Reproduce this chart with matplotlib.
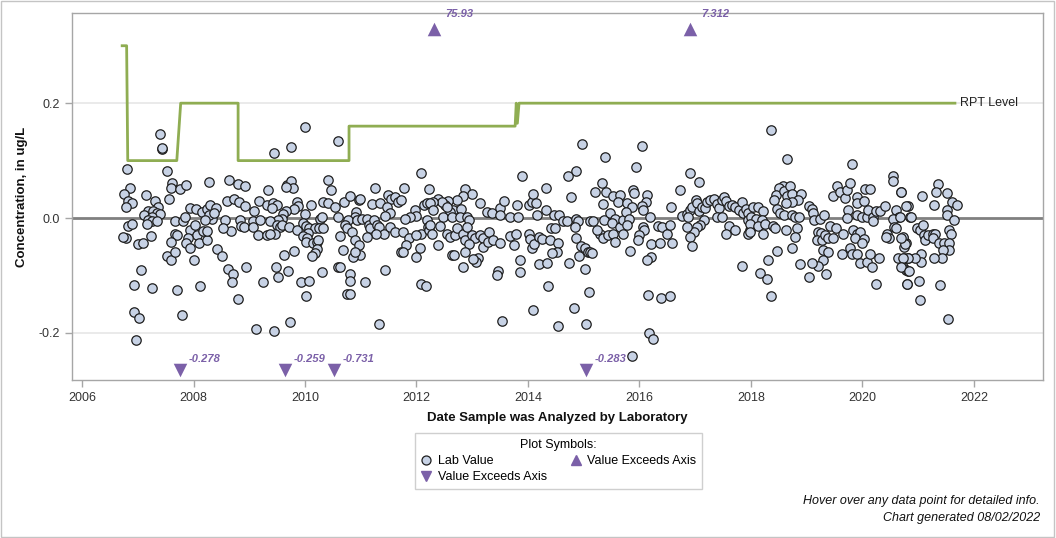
import matplotlib
matplotlib.use("Agg")
import matplotlib.pyplot as plt
from matplotlib.lines import Line2D
from matplotlib.patches import Rectangle

plt.rcParams['font.family'] = ['Liberation Sans', 'DejaVu Sans']

# ---------------- data (decimal year, concentration ug/L) ----------------
seg_2006_2009 = [
    (2007.40, 0.146), (2007.43, 0.120), (2007.44, 0.122), (2006.81, 0.086), (2007.53, 0.082),
    (2007.62, 0.061), (2007.60, 0.052), (2007.76, 0.050), (2007.87, 0.057), (2008.28, 0.062),
    (2008.64, 0.067), (2008.80, 0.059), (2008.92, 0.056), (2009.34, 0.049), (2006.86, 0.053),
    (2006.76, 0.042), (2006.83, 0.030), (2006.90, 0.027), (2006.78, 0.019), (2007.15, 0.040),
    (2007.31, 0.030), (2007.56, 0.034), (2007.37, 0.019), (2007.18, 0.013), (2007.12, 0.005),
    (2007.28, 0.013), (2007.34, 0.009), (2007.39, 0.007), (2007.25, 0.002), (2007.19, -0.003),
    (2007.25, -0.006), (2007.35, -0.006), (2007.16, -0.010), (2007.66, -0.005), (2007.82, -0.005),
    (2007.85, 0.002), (2007.94, 0.017), (2008.05, 0.015), (2008.15, 0.011), (2008.24, 0.015),
    (2008.30, 0.023), (2008.40, 0.017), (2008.33, -0.001), (2008.27, 0.005), (2008.21, -0.003),
    (2008.37, 0.008), (2006.83, -0.014), (2006.90, -0.011), (2006.79, -0.034), (2007.01, -0.045),
    (2007.10, -0.044), (2007.23, -0.031), (2007.66, -0.027), (2007.70, -0.030), (2007.93, -0.021),
    (2008.03, -0.012), (2008.07, -0.030), (2007.91, -0.035), (2007.87, -0.044), (2007.94, -0.053),
    (2008.09, -0.044), (2008.25, -0.038), (2008.17, -0.022), (2008.25, -0.022), (2007.59, -0.041),
    (2007.52, -0.066), (2007.60, -0.073), (2007.66, -0.060), (2008.00, -0.073), (2008.43, -0.054),
    (2008.51, -0.066), (2008.57, -0.003), (2008.67, -0.022), (2008.53, -0.018), (2008.83, -0.003),
    (2008.86, -0.014), (2008.91, -0.016), (2009.06, -0.005), (2009.07, -0.016), (2009.19, -0.003),
    (2009.16, -0.030), (2009.32, -0.030), (2008.60, 0.030), (2008.73, 0.033), (2008.82, 0.028),
    (2008.92, 0.021), (2009.08, 0.013), (2009.18, 0.030), (2009.31, 0.023), (2007.06, -0.090),
    (2006.93, -0.117), (2007.26, -0.122), (2007.71, -0.125), (2008.12, -0.118), (2008.61, -0.089),
    (2008.71, -0.097), (2008.69, -0.112), (2008.94, -0.086), (2009.24, -0.111), (2008.79, -0.141),
    (2006.93, -0.164), (2007.03, -0.174), (2007.80, -0.169), (2009.12, -0.193), (2006.97, -0.212),
    (2006.74, -0.033),
]

seg_2009_2012 = [
    (2010.00, 0.159), (2009.74, 0.123), (2009.44, 0.114), (2010.60, 0.134), (2012.08, 0.079),
    (2009.68, 0.057), (2009.74, 0.065), (2009.78, 0.053), (2009.66, 0.054),
    (2010.42, 0.066), (2010.47, 0.049), (2011.25, 0.052), (2011.77, 0.053), (2012.23, 0.050),
    (2009.43, 0.027), (2009.50, 0.023), (2009.40, 0.017),
    (2009.85, 0.028), (2009.88, 0.021), (2009.80, 0.015), (2009.66, 0.013), (2009.61, 0.007),
    (2009.58, -0.001), (2009.52, -0.003), (2010.11, 0.023), (2010.00, 0.007),
    (2010.33, 0.028), (2010.42, 0.027), (2010.54, 0.020), (2010.70, 0.028), (2010.81, 0.038),
    (2010.96, 0.031), (2010.99, 0.033), (2010.92, 0.011), (2010.90, 0.002), (2010.78, -0.003),
    (2010.60, 0.001), (2010.27, -0.001), (2010.30, 0.001),
    (2011.20, 0.024), (2011.35, 0.026), (2011.49, 0.040), (2011.55, 0.034), (2011.61, 0.037),
    (2011.67, 0.028), (2011.73, 0.031), (2011.47, 0.020), (2011.53, 0.009), (2011.44, 0.003),
    (2011.97, 0.014), (2012.00, 0.003), (2011.88, 0.002), (2011.79, -0.001), (2012.14, 0.023),
    (2012.18, 0.027), (2012.23, -0.012), (2012.18, -0.003),
    (2009.37, -0.006), (2009.49, -0.012), (2009.55, -0.015), (2009.58, -0.012), (2009.46, -0.027),
    (2009.37, -0.028), (2009.72, -0.016), (2009.86, -0.020), (2009.97, -0.009), (2010.02, -0.014),
    (2010.08, -0.018), (2010.18, -0.018), (2010.26, -0.018), (2010.33, -0.018), (2010.06, -0.026),
    (2009.97, -0.031), (2010.03, -0.035), (2010.02, -0.041), (2010.15, -0.044), (2010.21, -0.041),
    (2010.24, -0.039), (2010.21, -0.054), (2010.18, -0.061), (2010.12, -0.066),
    (2010.63, -0.031), (2010.68, -0.056), (2010.60, -0.085), (2010.63, -0.086),
    (2010.72, -0.012), (2010.76, -0.018), (2010.84, -0.024), (2010.90, -0.038), (2010.96, -0.047),
    (2010.99, -0.064), (2010.86, -0.067), (2010.90, -0.059),
    (2010.93, -0.003), (2011.02, -0.001), (2011.11, -0.002), (2011.14, -0.012), (2011.17, -0.018),
    (2011.23, -0.003), (2011.29, -0.012), (2011.32, -0.015), (2011.41, -0.028), (2011.28, -0.027),
    (2011.11, -0.033), (2011.53, -0.015), (2011.61, -0.024), (2011.76, -0.024), (2011.87, -0.034),
    (2011.82, -0.047), (2011.72, -0.059), (2011.76, -0.060), (2011.99, -0.067), (2012.06, -0.053),
    (2012.09, -0.028), (2012.00, -0.030), (2012.20, -0.015), (2012.22, -0.020),
    (2009.63, -0.064), (2009.80, -0.057), (2009.48, -0.085), (2009.52, -0.102), (2009.70, -0.092),
    (2010.31, -0.094), (2009.92, -0.112), (2010.08, -0.110), (2010.02, -0.135), (2010.80, -0.097),
    (2010.81, -0.110), (2011.08, -0.111), (2010.75, -0.132), (2010.81, -0.132), (2011.44, -0.090),
    (2012.09, -0.114), (2012.17, -0.118), (2009.73, -0.181), (2009.44, -0.197), (2011.33, -0.184),
]

seg_2012_2015 = [
    (2014.97, 0.129), (2014.86, 0.082), (2014.71, 0.073), (2013.90, 0.073), (2014.32, 0.052),
    (2014.78, 0.036), (2012.87, 0.050), (2012.99, 0.042), (2012.84, 0.038), (2012.72, 0.031),
    (2012.57, 0.030), (2012.51, 0.023), (2012.39, 0.034), (2012.45, 0.028), (2012.30, 0.028),
    (2012.24, 0.026), (2012.30, 0.014),
    (2012.66, 0.014), (2012.79, 0.015), (2012.60, 0.011), (2012.54, 0.019), (2012.48, 0.002),
    (2012.63, 0.002), (2012.78, 0.002), (2012.90, 0.002), (2012.95, -0.003), (2013.14, 0.026),
    (2013.26, 0.011), (2013.35, 0.008), (2013.50, 0.017), (2013.57, 0.030), (2013.50, 0.005),
    (2013.68, 0.002), (2013.81, 0.023), (2013.83, 0.002), (2014.02, 0.023), (2014.07, 0.028),
    (2014.09, 0.042), (2014.14, 0.026), (2014.17, 0.005), (2014.32, 0.014), (2014.47, 0.005),
    (2014.56, 0.005), (2014.62, -0.006), (2014.70, -0.006), (2014.87, -0.001), (2014.90, -0.006),
    (2012.24, -0.012), (2012.27, -0.027), (2012.42, -0.014), (2012.39, -0.047), (2012.54, -0.027),
    (2012.60, -0.033), (2012.69, -0.030), (2012.72, -0.018), (2012.84, -0.027), (2012.87, -0.038),
    (2012.90, -0.016), (2012.99, -0.030), (2013.05, -0.035), (2012.95, -0.045), (2013.14, -0.030),
    (2013.20, -0.035), (2013.19, -0.050), (2013.31, -0.024), (2013.29, -0.041), (2013.38, -0.038),
    (2013.49, -0.044), (2013.11, -0.070), (2013.07, -0.076), (2013.02, -0.072), (2012.84, -0.085),
    (2012.63, -0.064), (2012.67, -0.064), (2012.87, -0.060),
    (2013.47, -0.093), (2013.45, -0.099), (2013.67, -0.031), (2013.79, -0.028), (2013.75, -0.047),
    (2013.86, -0.073), (2013.85, -0.094),
    (2014.01, -0.027), (2014.04, -0.037), (2014.07, -0.053), (2014.11, -0.045), (2014.19, -0.033),
    (2014.25, -0.037), (2014.40, -0.038), (2014.41, -0.018), (2014.49, -0.018), (2014.53, -0.044),
    (2014.52, -0.059), (2014.43, -0.061), (2014.20, -0.080), (2014.34, -0.078), (2014.74, -0.079),
    (2014.92, -0.066), (2014.87, -0.034), (2014.84, -0.016), (2014.96, -0.048), (2015.02, -0.052),
    (2015.08, -0.060), (2015.02, -0.088), (2015.10, -0.128), (2015.04, -0.184),
    (2014.36, -0.119), (2014.09, -0.160), (2014.83, -0.157), (2013.54, -0.179), (2014.53, -0.188),
]

seg_2015_2018 = [
    (2016.05, 0.125), (2015.38, 0.106), (2015.94, 0.088), (2016.91, 0.079), (2017.06, 0.062),
    (2016.73, 0.049),
    (2015.33, 0.061), (2015.20, 0.046), (2015.40, 0.046), (2015.52, 0.038), (2015.65, 0.040),
    (2015.62, 0.028), (2015.35, 0.024), (2015.77, 0.026), (2015.89, 0.049), (2015.90, 0.044),
    (2015.86, 0.020), (2016.14, 0.040), (2016.12, 0.028), (2016.04, 0.021), (2016.06, 0.014),
    (2016.56, 0.019),
    (2015.11, -0.005), (2015.17, -0.006), (2015.36, -0.003), (2015.48, 0.008), (2015.56, -0.001),
    (2015.50, -0.009), (2015.65, -0.015), (2015.71, -0.003), (2015.76, 0.011), (2015.82, -0.001),
    (2015.78, -0.012), (2015.29, -0.027), (2015.35, -0.035), (2015.44, -0.030), (2015.53, -0.027),
    (2015.56, -0.041), (2015.71, -0.027), (2015.23, -0.021), (2015.11, -0.059), (2015.14, -0.061),
    (2016.19, 0.001), (2016.07, -0.015), (2016.08, -0.021), (2016.00, -0.030), (2015.98, -0.039),
    (2015.83, -0.057), (2016.20, -0.045), (2016.37, -0.044), (2016.34, -0.014), (2016.40, -0.016),
    (2016.49, -0.027), (2016.55, -0.012), (2016.58, -0.044), (2016.20, -0.067), (2016.14, -0.073),
    (2016.16, -0.134), (2016.39, -0.140), (2016.54, -0.136), (2016.18, -0.200), (2016.25, -0.210),
    (2015.87, -0.241),
    (2016.76, 0.003), (2016.85, 0.007), (2016.90, 0.014), (2016.88, 0.002), (2016.94, 0.019),
    (2017.02, 0.031), (2017.03, 0.026), (2017.06, 0.013), (2017.12, 0.019), (2017.18, 0.017),
    (2017.21, 0.028), (2017.27, 0.031), (2017.34, 0.034), (2017.39, 0.025), (2017.42, 0.017),
    (2017.48, 0.032), (2017.51, 0.036), (2017.55, 0.030), (2017.60, 0.021), (2017.66, 0.023),
    (2017.72, 0.019), (2017.78, 0.014), (2017.84, 0.028), (2017.86, 0.008), (2017.92, 0.015),
    (2017.95, 0.009), (2017.39, 0.002), (2017.48, 0.001), (2017.15, -0.003), (2017.09, -0.012),
    (2017.03, -0.015), (2016.98, -0.024), (2016.91, -0.033), (2016.95, -0.049), (2016.85, -0.016),
    (2017.60, -0.014), (2017.55, -0.028), (2017.72, -0.021), (2017.94, -0.003), (2017.98, -0.021),
    (2017.95, -0.028), (2017.84, -0.083),
]

seg_2018_2021 = [
    (2018.36, 0.153), (2018.65, 0.102), (2019.82, 0.094), (2020.54, 0.073), (2020.55, 0.064),
    (2020.69, 0.046),
    (2018.04, 0.019), (2018.13, 0.019), (2018.22, 0.013), (2018.01, 0.002), (2018.10, -0.001),
    (2018.19, -0.003), (2017.98, -0.010), (2018.13, -0.014), (2018.25, -0.010), (2018.40, -0.014),
    (2018.43, -0.018), (2017.98, -0.024), (2018.22, -0.028), (2018.63, -0.020), (2018.82, -0.018),
    (2018.79, -0.033), (2018.74, -0.053), (2018.47, -0.057), (2018.31, -0.073), (2018.16, -0.096),
    (2018.28, -0.106), (2018.36, -0.136), (2018.88, -0.080), (2018.57, 0.056), (2018.51, 0.052),
    (2018.45, 0.040), (2018.41, 0.032), (2018.59, 0.047), (2018.64, 0.038), (2018.70, 0.056),
    (2018.73, 0.042), (2018.89, 0.042), (2018.85, 0.031), (2018.73, 0.028), (2018.63, 0.026),
    (2018.46, 0.015), (2018.52, 0.009), (2018.59, 0.005), (2018.73, 0.005), (2018.79, 0.001),
    (2018.87, 0.001),
    (2019.05, 0.021), (2019.09, 0.015), (2019.12, 0.008), (2019.13, -0.003), (2019.24, -0.002),
    (2019.31, 0.005), (2019.21, -0.024), (2019.25, -0.026), (2019.18, -0.038), (2019.27, -0.038),
    (2019.33, -0.030), (2019.39, -0.035), (2019.41, -0.014), (2019.48, -0.035), (2019.53, -0.018),
    (2019.66, -0.027), (2019.29, -0.055), (2019.39, -0.059), (2019.29, -0.073), (2019.21, -0.084),
    (2019.09, -0.079), (2019.05, -0.102), (2019.35, -0.097), (2019.63, -0.062), (2019.78, -0.053),
    (2019.81, -0.062), (2019.91, -0.062), (2019.83, -0.021), (2019.90, -0.027), (2019.96, -0.024),
    (2019.87, -0.035), (2020.02, -0.037), (2019.99, -0.043), (2019.48, 0.038), (2019.55, 0.056),
    (2019.60, 0.046), (2019.69, 0.035), (2019.73, 0.048), (2019.77, 0.061), (2019.90, 0.036),
    (2019.90, 0.026), (2020.03, 0.030), (2019.75, 0.014), (2019.72, 0.000), (2019.90, 0.005),
    (2019.99, 0.002), (2020.09, 0.001), (2020.10, 0.014), (2020.04, 0.050), (2020.13, 0.050),
    (2020.19, 0.002), (2020.19, -0.006), (2020.24, 0.013), (2020.32, 0.013), (2020.41, 0.021),
    (2019.96, -0.078), (2020.09, -0.076), (2020.17, -0.085), (2020.14, -0.063), (2020.29, -0.070),
    (2020.24, -0.114),
    (2020.60, 0.014), (2020.66, 0.001), (2020.54, -0.002), (2020.57, -0.015), (2020.60, -0.018),
    (2020.45, -0.027), (2020.48, -0.035), (2020.42, -0.033), (2020.72, -0.035), (2020.78, -0.044),
    (2020.75, -0.051), (2020.63, -0.070), (2020.75, -0.070), (2020.81, -0.070), (2020.73, -0.085),
    (2020.78, -0.090), (2020.81, -0.093), (2020.80, -0.115), (2020.81, 0.021), (2020.85, 0.001),
]

seg_2021 = [
    (2021.36, 0.059), (2021.32, 0.046), (2021.52, 0.044), (2021.60, 0.028), (2021.69, 0.023),
    (2021.51, 0.014), (2021.52, 0.005), (2021.64, -0.003), (2021.28, 0.023), (2021.07, 0.038),
    (2020.78, 0.021), (2020.70, 0.046), (2020.67, 0.002), (2020.88, 0.001),
    (2020.98, -0.018), (2021.04, -0.020), (2021.08, -0.012), (2021.11, -0.030), (2021.13, -0.038),
    (2021.17, -0.030), (2021.26, -0.027), (2021.31, -0.027), (2021.26, -0.035), (2021.38, -0.044),
    (2021.47, -0.043), (2021.56, -0.021), (2021.59, -0.028), (2021.56, -0.044), (2021.55, -0.055),
    (2021.44, -0.056), (2021.43, -0.070), (2021.29, -0.070), (2021.06, -0.062), (2021.06, -0.076),
    (2020.94, -0.070), (2020.82, -0.070), (2020.73, -0.070), (2020.70, -0.085), (2020.73, -0.033),
    (2020.76, -0.045), (2020.70, -0.035), (2020.84, -0.093), (2020.80, -0.114), (2021.01, -0.109),
    (2021.39, -0.117), (2021.03, -0.143), (2021.54, -0.176),
]

# values beyond the axis range (shown as triangles with labels)
above_dates = [2012.32, 2016.91]
above_labels = ["75.93", "7.312"]
below_dates = [2007.76, 2009.64, 2010.52, 2015.04]
below_labels = ["-0.278", "-0.259", "-0.731", "-0.283"]

# reporting level (RPT) line
rpt_dates = [2006.72, 2006.80, 2006.82, 2007.70, 2007.77, 2008.80, 2008.80, 2010.79, 2010.79,
             2013.77, 2013.79, 2013.81, 2013.84, 2021.66]
rpt_values = [0.30, 0.30, 0.10, 0.10, 0.20, 0.20, 0.10, 0.10, 0.16,
              0.16, 0.20, 0.165, 0.20, 0.20]

year_ticks = [2006, 2008, 2010, 2012, 2014, 2016, 2018, 2020, 2022]
conc_ticks = [-0.2, 0.0, 0.2]

# ---------------- figure ----------------
W, H = 1056, 538
fig = plt.figure(figsize=(W / 100, H / 100), dpi=100)
fig.patches.append(Rectangle((0.0005, 0.001), 0.998, 0.997, transform=fig.transFigure,
                             fill=False, edgecolor='#c4c4c4', linewidth=1.0))

ax = fig.add_axes([72 / W, 1 - 380 / H, (1043 - 72) / W, (380 - 13) / H])
ax.set_xlim(2005.82, 2023.24)
ax.set_ylim(-0.282, 0.357)

for s in ax.spines.values():
    s.set_color('#a6a6a6')
    s.set_linewidth(1.0)

ax.set_yticks(conc_ticks)
ax.set_yticklabels(["-0.2", "0.0", "0.2"])
ax.set_xticks(year_ticks)
ax.set_xticklabels([str(y) for y in year_ticks])
ax.tick_params(axis='both', colors='#a6a6a6', labelcolor='#333333', labelsize=9, length=5, width=1)

for yv in [-0.2, 0.2]:
    ax.axhline(yv, color='#e6e6e6', linewidth=1.2, zorder=0)
ax.axhline(0.0, color='#808080', linewidth=2.0, zorder=1)

ax.plot(rpt_dates, rpt_values, color='#8fad52', linewidth=2.0, zorder=2)
ax.text(2021.75, 0.2, "RPT Level", fontsize=9, color='#222222', va='center', ha='left')

all_pts = seg_2006_2009 + seg_2009_2012 + seg_2012_2015 + seg_2015_2018 + seg_2018_2021 + seg_2021
xs = [p[0] for p in all_pts]
ys = [p[1] for p in all_pts]
ax.scatter(xs, ys, s=46, facecolor='#c7d2e5', edgecolor='#1e1e1e', linewidth=0.9, zorder=3)

purple = '#7b60a8'
ax.scatter(above_dates, [0.329] * len(above_dates), marker='^', s=95, color=purple, zorder=4,
           linewidths=0)
for d, lab in zip(above_dates, above_labels):
    ax.annotate(lab, (d, 0.329), xytext=(8, 11), textcoords='offset points', fontsize=8,
                fontweight='bold', fontstyle='italic', color=purple, ha='left', va='center')
ax.scatter(below_dates, [-0.264] * len(below_dates), marker='v', s=95, color=purple, zorder=4,
           linewidths=0)
for d, lab in zip(below_dates, below_labels):
    ax.annotate(lab, (d, -0.264), xytext=(6, 8), textcoords='offset points', fontsize=8,
                fontweight='bold', fontstyle='italic', color=purple, ha='left', va='center')

ax.set_ylabel("Concentration, in ug/L", fontsize=9.5, fontweight='bold', color='#111111', labelpad=8)
ax.set_xlabel("Date Sample was Analyzed by Laboratory", fontsize=9.5, fontweight='bold',
              color='#111111', labelpad=6)

handles = [
    Line2D([], [], marker='o', linestyle='none', markersize=6.5, markerfacecolor='#c7d2e5',
           markeredgecolor='#1e1e1e', markeredgewidth=0.9, label='Lab Value'),
    Line2D([], [], marker='v', linestyle='none', markersize=7, color=purple,
           label='Value Exceeds Axis'),
    Line2D([], [], marker='^', linestyle='none', markersize=7, color=purple,
           label='Value Exceeds Axis'),
]
leg = fig.legend(handles=handles, loc='center', bbox_to_anchor=(558 / W, 1 - 461 / H), ncol=2,
                 title="Plot Symbols:", fontsize=9, title_fontsize=9, frameon=True, fancybox=False,
                 edgecolor='#c4c4c4', handletextpad=0.4, columnspacing=1.8, labelspacing=0.35,
                 borderpad=0.45, handlelength=1.0, borderaxespad=0)
leg.get_frame().set_linewidth(1.0)

fig.text(1040 / W, 1 - 501 / H, "Hover over any data point for detailed info.", fontsize=9,
         fontstyle='italic', ha='right', va='center', color='#111111')
fig.text(1040 / W, 1 - 518 / H, "Chart generated 08/02/2022", fontsize=9,
         fontstyle='italic', ha='right', va='center', color='#111111')

fig.savefig("out.png", dpi=100)
